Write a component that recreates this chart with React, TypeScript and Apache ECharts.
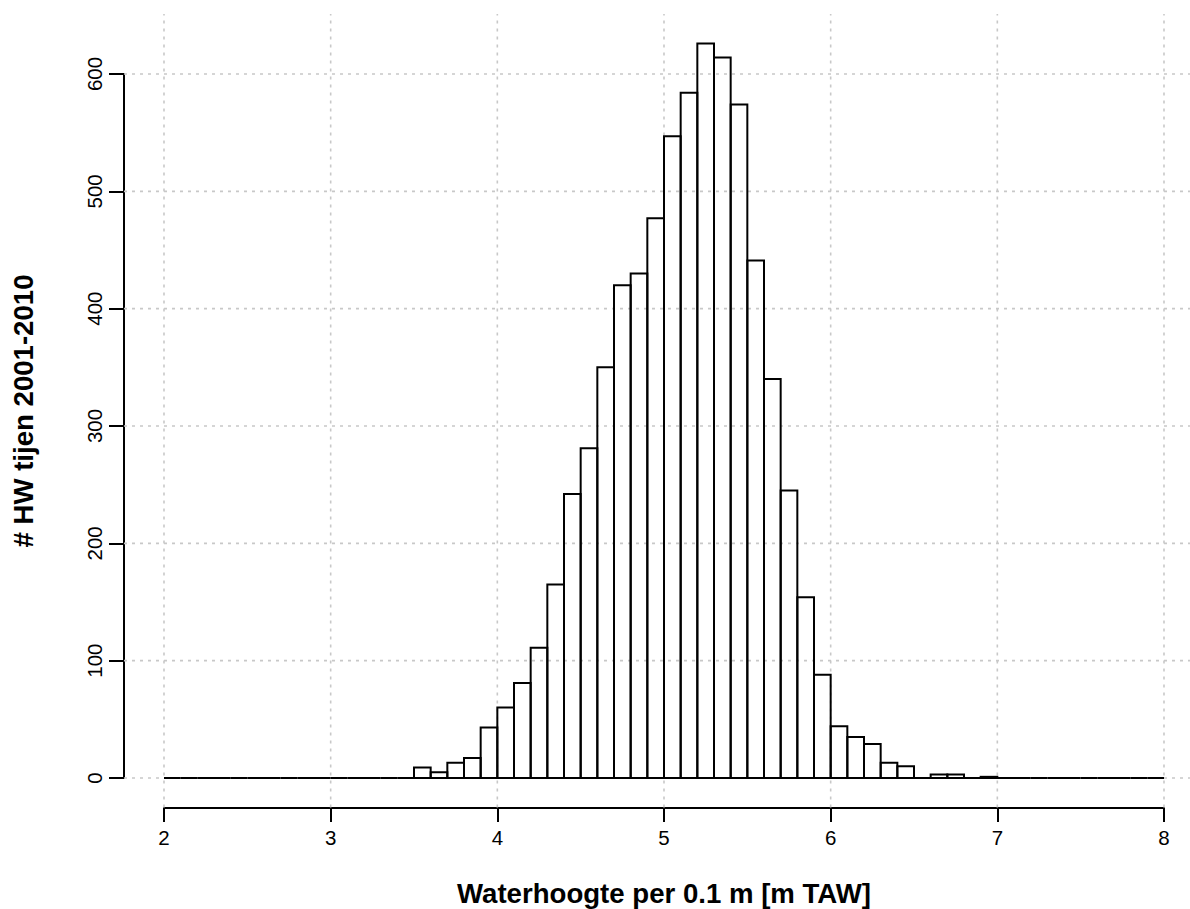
import React, { useEffect, useRef } from "react";
import * as echarts from "echarts";

// Histogram bins (0.1 m wide) from 2.0 to 8.0 m TAW
const binStart = 2.0;
const binWidth = 0.1;
const counts: number[] = [
  // 2.0 - 2.9
  0, 0, 0, 0, 0, 0, 0, 0, 0, 0,
  // 3.0 - 3.9
  0, 0, 0, 0, 0, 9, 5, 13, 17, 43,
  // 4.0 - 4.9
  60, 81, 111, 165, 242, 281, 350, 420, 430, 477,
  // 5.0 - 5.9
  547, 584, 626, 614, 574, 441, 340, 245, 154, 88,
  // 6.0 - 6.9
  44, 35, 29, 13, 10, 0, 3, 3, 0, 1,
  // 7.0 - 7.9
  0, 0, 0, 0, 0, 0, 0, 0, 0, 0,
];
const xTicks = [2, 3, 4, 5, 6, 7, 8];
const yTicks = [0, 100, 200, 300, 400, 500, 600];
const xTitle = "Waterhoogte per 0.1 m [m TAW]";
const yTitle = "# HW tijen 2001-2010";

const FONT = '"Liberation Sans", Arial, sans-serif';

export default function App() {
  const ref = useRef<HTMLDivElement>(null);
  useEffect(() => {
    if (!ref.current) return;
    const chart = echarts.init(ref.current, null, { renderer: "svg" });

    const histData = counts.map((c, i) => {
      const lo = +(binStart + i * binWidth).toFixed(2);
      const hi = +(binStart + (i + 1) * binWidth).toFixed(2);
      return [lo, hi, c];
    });

    // R-style plot region: 4% extension of the data ranges
    const xMin = xTicks[0];
    const xMax = xTicks[xTicks.length - 1];
    const xExt = (xMax - xMin) * 0.04;
    const yMaxData = Math.max(...counts);
    const yExt = yMaxData * 0.04;
    const usrX = [xMin - xExt, xMax + xExt];
    const usrY = [-yExt, yMaxData + yExt];

    const gridStyle = {
      stroke: "#c8c8c8",
      lineWidth: 1.6,
      lineDash: [3, 5],
    };

    chart.setOption({
      animation: false,
      backgroundColor: "#ffffff",
      grid: {
        left: 164,
        right: 26,
        top: 74,
        bottom: 131,
        containLabel: false,
        outerBoundsMode: "none",
      },
      xAxis: {
        type: "value",
        min: xMin,
        max: xMax,
        interval: 1,
        offset: 30,
        axisLine: { show: true, onZero: false, lineStyle: { color: "#000", width: 2 } },
        axisTick: { show: true, length: 14, lineStyle: { color: "#000", width: 2 } },
        axisLabel: {
          color: "#000",
          fontSize: 20.5,
          fontFamily: FONT,
          margin: 19,
        },
        splitLine: { show: false },
      },
      yAxis: {
        type: "value",
        min: yTicks[0],
        max: yTicks[yTicks.length - 1],
        interval: 100,
        offset: 40,
        axisLine: { show: true, onZero: false, lineStyle: { color: "#000", width: 2 } },
        axisTick: { show: true, length: 15, lineStyle: { color: "#000", width: 2 } },
        axisLabel: {
          color: "#000",
          fontSize: 20.5,
          fontFamily: FONT,
          rotate: 90,
          margin: 19,
        },
        splitLine: { show: false },
      },
      series: [
        {
          type: "custom",
          name: "vgrid",
          z: 1,
          clip: false,
          silent: true,
          data: xTicks.map((v) => [v]),
          encode: { x: 0 },
          renderItem: (params: any, api: any) => {
            const v = api.value(0);
            const p0 = api.coord([v, usrY[0]]);
            const p1 = api.coord([v, usrY[1]]);
            return {
              type: "line",
              shape: { x1: p0[0], y1: p0[1], x2: p1[0], y2: p1[1] },
              style: gridStyle,
            };
          },
        },
        {
          type: "custom",
          name: "hgrid",
          z: 1,
          clip: false,
          silent: true,
          data: yTicks.map((v) => [v]),
          encode: { y: 0 },
          renderItem: (params: any, api: any) => {
            const v = api.value(0);
            const p0 = api.coord([usrX[0], v]);
            const p1 = api.coord([usrX[1], v]);
            return {
              type: "line",
              shape: { x1: p0[0], y1: p0[1], x2: p1[0], y2: p1[1] },
              style: gridStyle,
            };
          },
        },
        {
          type: "custom",
          name: "hist",
          z: 2,
          clip: false,
          data: histData,
          encode: { x: [0, 1], y: 2 },
          renderItem: (params: any, api: any) => {
            const lo = api.value(0);
            const hi = api.value(1);
            const c = api.value(2);
            const a = api.coord([lo, 0]);
            const b = api.coord([hi, c]);
            return {
              type: "polygon",
              shape: {
                points: [
                  [a[0], a[1]],
                  [a[0], b[1]],
                  [b[0], b[1]],
                  [b[0], a[1]],
                ],
              },
              style: { fill: "none", stroke: "#000", lineWidth: 2 },
            };
          },
        },
      ],
      graphic: [
        {
          type: "text",
          x: 664,
          y: 893,
          style: {
            text: xTitle,
            font: `bold 27.6px ${FONT}`,
            fill: "#000",
            textAlign: "center",
            textVerticalAlign: "middle",
          },
        },
        {
          type: "text",
          x: 23,
          y: 411,
          rotation: Math.PI / 2,
          style: {
            text: yTitle,
            font: `bold 27.6px ${FONT}`,
            fill: "#000",
            textAlign: "center",
            textVerticalAlign: "middle",
          },
        },
      ],
    });

    return () => chart.dispose();
  }, []);

  return (
    <div
      ref={ref}
      style={{ position: "absolute", left: 0, top: 0, width: 1190, height: 909, background: "#fff" }}
    />
  );
}
